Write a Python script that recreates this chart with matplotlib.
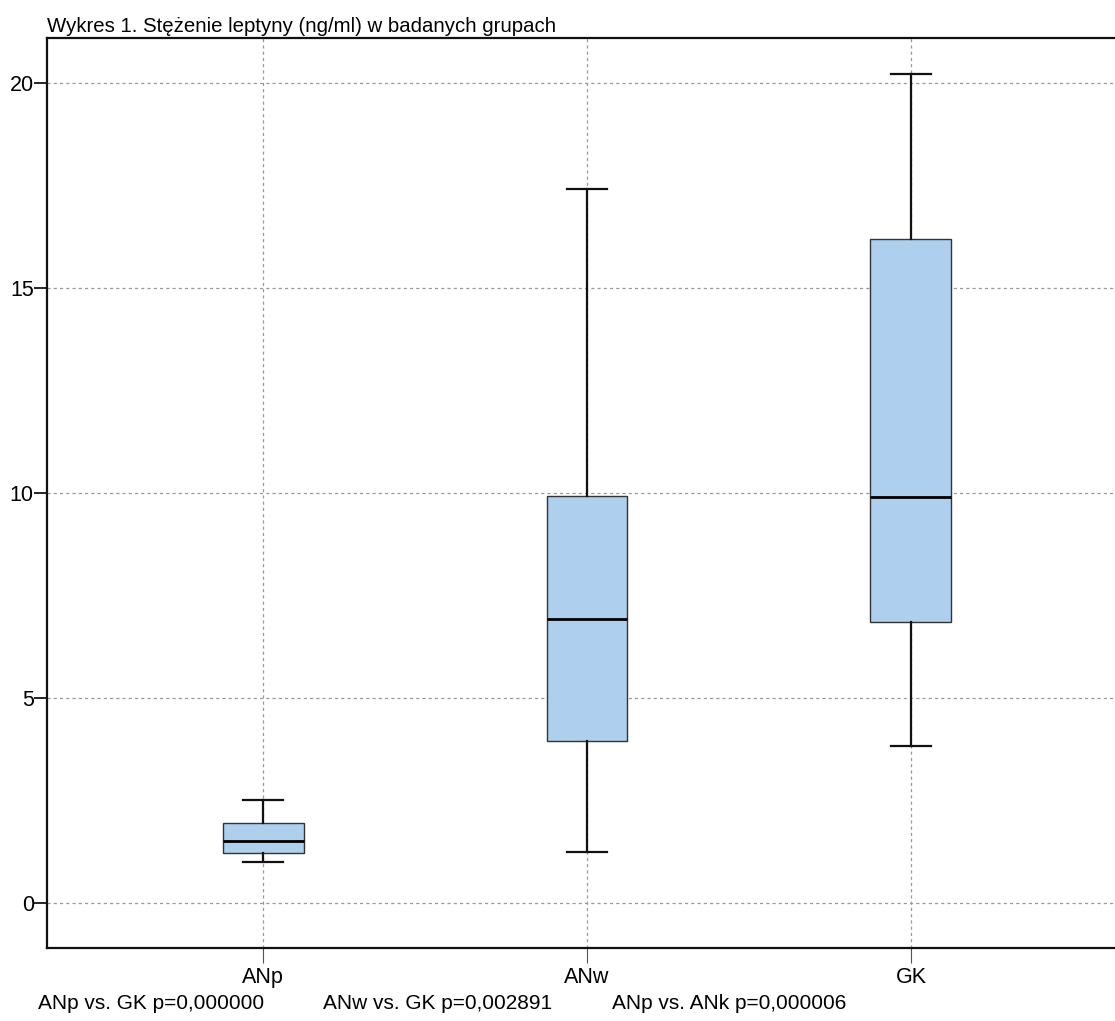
import matplotlib
matplotlib.use("Agg")
import matplotlib.pyplot as plt

#%% DATA ~~~~~~~~~~~~~~~~~~~~~~~~~~~~~~~~~~~~~~~~~~~~
groups = ['ANp', 'ANw', 'GK']
whisker_low = [1.00, 1.25, 3.83]
q1 = [1.22, 3.95, 6.85]
medians = [1.51, 6.92, 9.90]
q3 = [1.96, 9.93, 16.20]
whisker_high = [2.50, 17.41, 20.22]

title = 'Wykres 1. Stężenie leptyny (ng/ml) w badanych grupach'
notes = ['ANp vs. GK p=0,000000', 'ANw vs. GK p=0,002891', 'ANp vs. ANk p=0,000006']
yticks = [0, 5, 10, 15, 20]

#%% CONFIGURATION ~~~~~~~~~~~~~~~~~~~~~~~~~~~~~~~~~~~~~~~~~~~~
plt.rcParams['font.family'] = ['Liberation Sans', 'DejaVu Sans']

W, H = 1115, 1021
fig = plt.figure(figsize=(W / 100, H / 100), dpi=100)
ax = fig.add_axes([47 / W, (H - 948) / H, (1115 - 47) / W, (948 - 38) / H])

stats = []
for i, g in enumerate(groups):
    stats.append({'label': g, 'whislo': whisker_low[i], 'q1': q1[i], 'med': medians[i],
                  'q3': q3[i], 'whishi': whisker_high[i], 'fliers': []})

ax.bxp(stats, positions=range(len(groups)), widths=0.25, patch_artist=True,
       showfliers=False, capwidths=0.125,
       boxprops=dict(facecolor='#aed0ee', edgecolor='#333333', linewidth=1),
       medianprops=dict(color='black', linewidth=2),
       whiskerprops=dict(color='#111111', linewidth=1.6),
       capprops=dict(color='#111111', linewidth=1.6))

ax.set_xlim(-0.667, 2.63)
ax.set_ylim(-1.10, 21.10)
ax.set_yticks(yticks)
ax.set_xticks(range(len(groups)))
ax.set_xticklabels(groups)

ax.grid(True, color='#999999', linestyle=(0, (2.5, 2.5)), linewidth=0.9)
ax.set_axisbelow(True)

for side in ['left', 'bottom', 'top']:
    ax.spines[side].set_linewidth(1.6)
    ax.spines[side].set_color('#111111')
ax.spines['right'].set_visible(False)

ax.tick_params(axis='y', length=9.5, width=1.2, labelsize=15.5, pad=0)
ax.tick_params(axis='x', length=11, width=0.8, labelsize=15.5, pad=3, color='#555555')

fig.text(47 / W, 1 - 26 / H, title, fontsize=14.7, va='center', ha='left')

for x, t in zip([38, 323, 612], notes):
    fig.text(x / W, 1 - 1003 / H, t, fontsize=15, va='center', ha='left')

fig.savefig('out.png', dpi=100)
